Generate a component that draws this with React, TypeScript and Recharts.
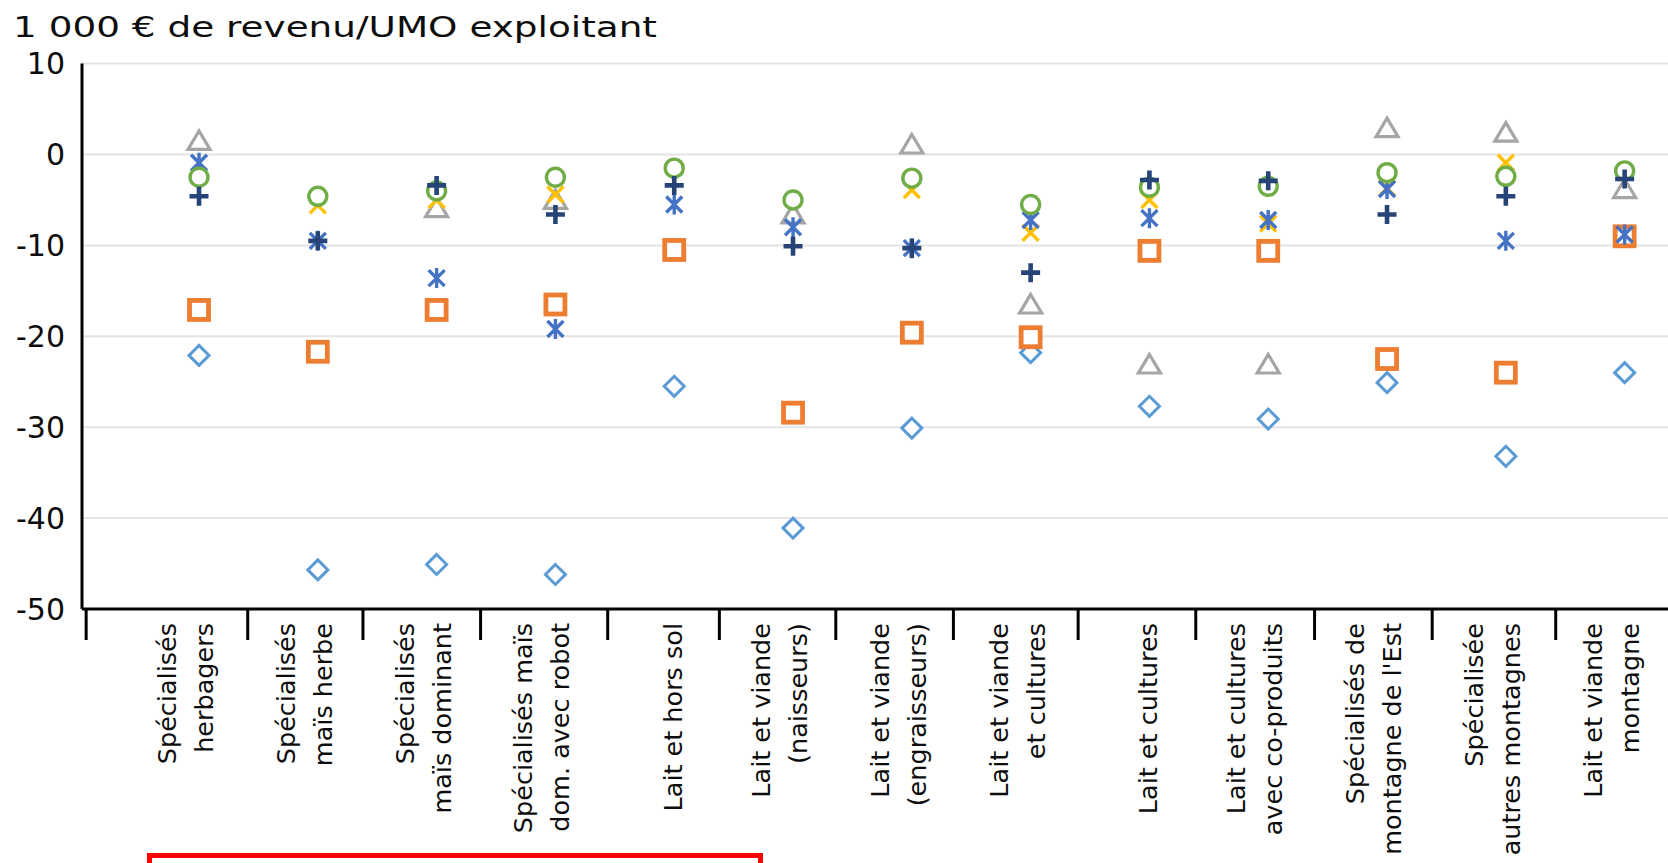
import React from "react";
import { ScatterChart, Scatter, XAxis, YAxis, CartesianGrid } from "recharts";

const title = "1 000 € de revenu/UMO exploitant";

const categories = [
  "Spécialisés\nherbagers",
  "Spécialisés\nmaïs herbe",
  "Spécialisés\nmaïs dominant",
  "Spécialisés maïs\ndom. avec robot",
  "Lait et hors sol",
  "Lait et viande\n(naisseurs)",
  "Lait et viande\n(engraisseurs)",
  "Lait et viande\net cultures",
  "Lait et cultures",
  "Lait et cultures\navec co-produits",
  "Spécialisés de\nmontagne de l'Est",
  "Spécialisée\nautres montagnes",
  "Lait et viande\nmontagne",
];

// series values (1 000 € de revenu / UMO exploitant), null = not visible
const diamondValues = [-22.1, -45.7, -45.1, -46.2, -25.5, -41.1, -30.1, -21.8, -27.7, -29.1, -25.1, -33.2, -24.0];
const squareValues = [-17.1, -21.7, -17.1, -16.5, -10.5, -28.4, -19.6, -20.1, -10.6, -10.6, -22.5, -24.0, -9.0];
const triangleValues = [1.5, null, -5.9, -5.0, null, -6.6, 1.1, -16.5, -23.1, -23.1, 2.9, 2.4, -3.8];
const crossValues = [null, -5.6, -5.0, -4.4, null, null, -3.9, -8.6, -5.0, -7.6, -3.7, -0.9, null];
const starValues = [-0.9, -9.5, -13.6, -19.2, -5.5, -8.0, -10.3, -7.2, -7.0, -7.2, -3.8, -9.5, -8.8];
const circleValues = [-2.5, -4.6, -4.0, -2.5, -1.5, -5.0, -2.6, -5.5, -3.6, -3.5, -2.0, -2.4, -1.8];
const plusValues = [-4.6, -9.5, -3.4, -6.6, -3.4, -10.1, -10.3, -13.0, -2.8, -2.9, -6.6, -4.6, -2.7];

const yTicks = [10, 0, -10, -20, -30, -40, -50];
const tickMarks = [-0.95, 0.41, 1.38, 2.37, 3.44, 4.38, 5.36, 6.35, 7.4, 8.39, 9.39, 10.38, 11.42];
const xDomain: [number, number] = [-0.985, 12.365];

const FONT = "'DejaVu Sans', sans-serif";

type Kind = "diamond" | "square" | "triangle" | "cross" | "star" | "circle" | "plus";

const seriesDefs: { name: string; kind: Kind; color: string; values: (number | null)[] }[] = [
  { name: "Série 1", kind: "diamond", color: "#5B9BD5", values: diamondValues },
  { name: "Série 2", kind: "square", color: "#ED7D31", values: squareValues },
  { name: "Série 3", kind: "triangle", color: "#A5A5A5", values: triangleValues },
  { name: "Série 4", kind: "cross", color: "#FFC000", values: crossValues },
  { name: "Série 5", kind: "star", color: "#4472C4", values: starValues },
  { name: "Série 6", kind: "circle", color: "#70AD47", values: circleValues },
  { name: "Série 7", kind: "plus", color: "#264478", values: plusValues },
];

function toData(values: (number | null)[]) {
  const out: { x: number; y: number }[] = [];
  values.forEach((v, i) => {
    if (v !== null) out.push({ x: i, y: v });
  });
  return out;
}

function Marker({ kind, cx, cy, color }: { kind: Kind; cx: number; cy: number; color: string }) {
  if (cx == null || cy == null || isNaN(cx) || isNaN(cy)) return null;
  switch (kind) {
    case "diamond":
      return (
        <path
          d={`M${cx},${cy - 10}L${cx + 10},${cy}L${cx},${cy + 10}L${cx - 10},${cy}Z`}
          fill="#fff"
          stroke={color}
          strokeWidth={3}
        />
      );
    case "square":
      return <rect x={cx - 9.5} y={cy - 9.5} width={19} height={19} fill="#fff" stroke={color} strokeWidth={4.8} />;
    case "triangle":
      return (
        <path
          d={`M${cx},${cy - 10}L${cx + 11},${cy + 8.5}L${cx - 11},${cy + 8.5}Z`}
          fill="#fff"
          stroke={color}
          strokeWidth={3.2}
        />
      );
    case "cross":
      return (
        <path
          d={`M${cx - 8},${cy - 8}L${cx + 8},${cy + 8}M${cx + 8},${cy - 8}L${cx - 8},${cy + 8}`}
          stroke={color}
          strokeWidth={3.4}
          fill="none"
        />
      );
    case "star":
      return (
        <path
          d={`M${cx - 8},${cy - 8}L${cx + 8},${cy + 8}M${cx + 8},${cy - 8}L${cx - 8},${cy + 8}M${cx},${cy - 10}L${cx},${cy + 10}`}
          stroke={color}
          strokeWidth={3.4}
          fill="none"
        />
      );
    case "circle":
      return <circle cx={cx} cy={cy} r={9} fill="#fff" stroke={color} strokeWidth={3.4} />;
    case "plus":
      return (
        <path
          d={`M${cx - 9.5},${cy}L${cx + 9.5},${cy}M${cx},${cy - 9.5}L${cx},${cy + 9.5}`}
          stroke={color}
          strokeWidth={4.6}
          fill="none"
        />
      );
  }
  return null;
}

function XTick(props: any) {
  const { x, y, payload } = props;
  const v = payload.value as number;
  const idx = Math.round(v);
  if (Math.abs(v - idx) > 1e-6) {
    return <line x1={x} y1={y} x2={x} y2={y + 31} stroke="#000" strokeWidth={3} />;
  }
  const lines = categories[idx].split("\n");
  const offsets = lines.length === 1 ? [-1] : [-32, 5];
  const ty = y + 14;
  return (
    <g>
      {lines.map((ln, k) => {
        const lx = x + offsets[k];
        return (
          <text
            key={k}
            x={lx}
            y={ty}
            transform={`rotate(-90 ${lx} ${ty})`}
            textAnchor="end"
            dominantBaseline="central"
            fontSize={25.5}
            fontFamily={FONT}
            fill="#0d0d0d"
          >
            {ln}
          </text>
        );
      })}
    </g>
  );
}

export default function App() {
  const xTicks = [...tickMarks, ...categories.map((_, i) => i)];
  return (
    <div
      style={{
        position: "absolute",
        left: 0,
        top: 0,
        width: 1668,
        height: 863,
        overflow: "hidden",
        background: "#fff",
      }}
    >
      <svg width={1668} height={60} style={{ position: "absolute", left: 0, top: 0 }}>
        <text
          x={13}
          y={37}
          fontSize={28}
          fontFamily={FONT}
          fill="#0d0d0d"
          textLength={644}
          lengthAdjust="spacingAndGlyphs"
        >
          {title}
        </text>
      </svg>
      <div style={{ position: "absolute", left: 0, top: 0 }}>
        <ScatterChart width={1668} height={863} margin={{ top: 63.6, right: 0, bottom: 0, left: 0 }}>
          <CartesianGrid vertical={false} stroke="#E4E4E4" strokeWidth={2} />
          <XAxis
            dataKey="x"
            type="number"
            domain={xDomain}
            allowDataOverflow
            ticks={xTicks}
            interval={0}
            tick={<XTick />}
            tickLine={false}
            tickSize={0}
            tickMargin={0}
            axisLine={{ stroke: "#000", strokeWidth: 3 }}
            height={254}
          />
          <YAxis
            dataKey="y"
            type="number"
            domain={[-50, 10]}
            ticks={yTicks}
            interval={0}
            width={82}
            tickLine={false}
            tickSize={0}
            tickMargin={17}
            axisLine={{ stroke: "#000", strokeWidth: 3 }}
            tick={{ fontSize: 30, fontFamily: FONT, fill: "#0d0d0d" }}
          />
          {seriesDefs.map((s) => (
            <Scatter
              key={s.name}
              name={s.name}
              data={toData(s.values)}
              isAnimationActive={false}
              shape={(p: any) => <Marker kind={s.kind} cx={p.cx} cy={p.cy} color={s.color} />}
            />
          ))}
        </ScatterChart>
      </div>
      <div
        style={{
          position: "absolute",
          left: 147,
          top: 853,
          width: 606,
          height: 40,
          border: "5px solid #FF0000",
        }}
      />
    </div>
  );
}
